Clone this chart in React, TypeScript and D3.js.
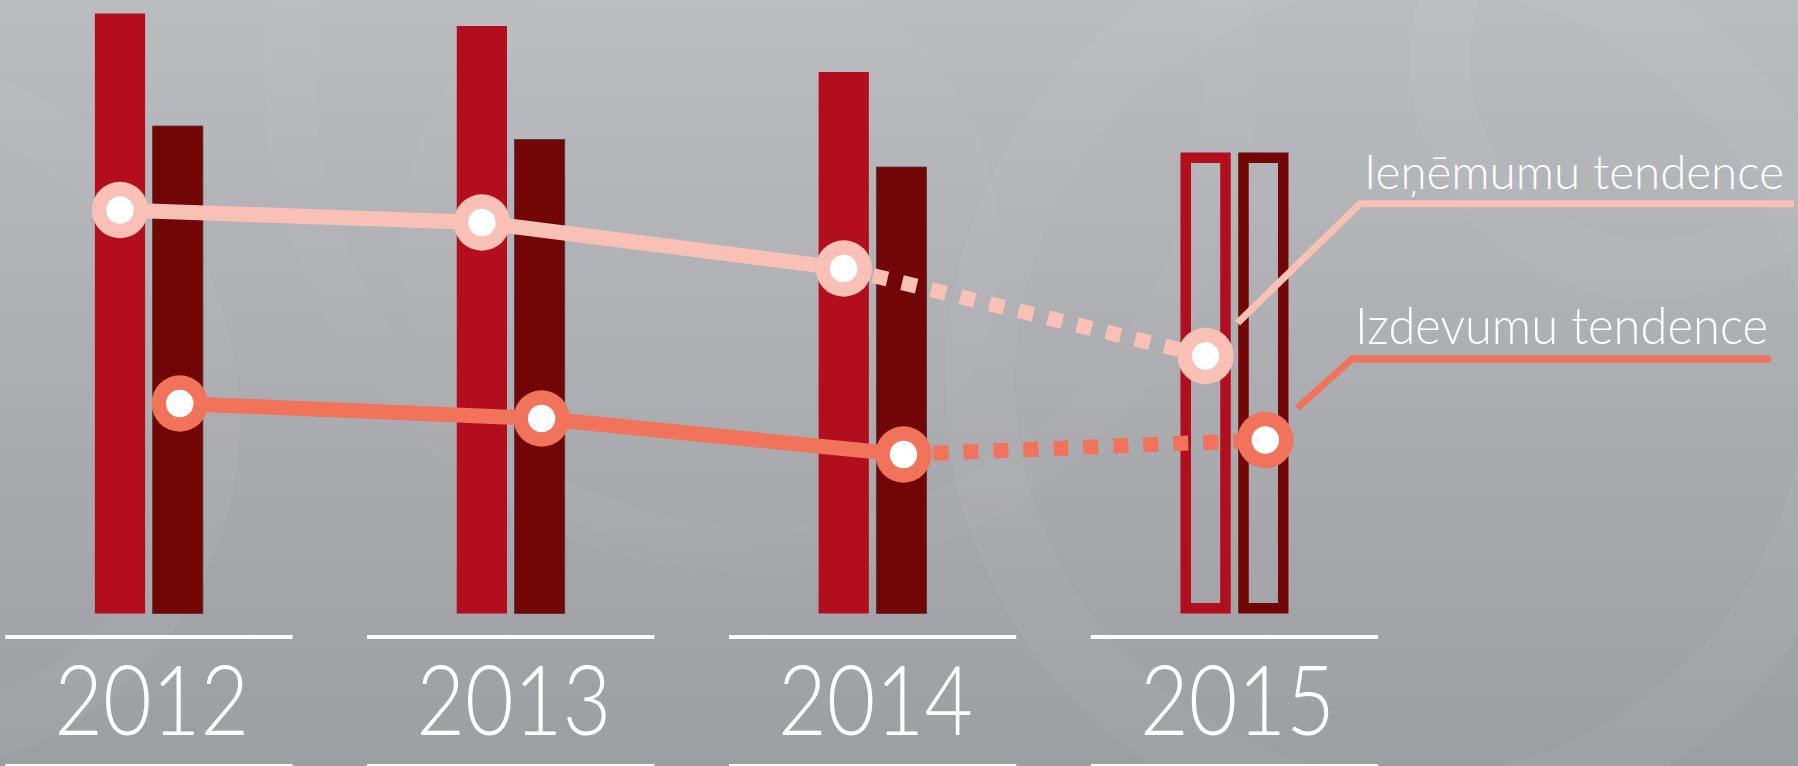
import React from "react";
import * as d3 from "d3";

const years = ["2012", "2013", "2014", "2015"];
const seriesKeys = ["rev", "exp"];
// bar heights (relative units)
const revenueBars = [600, 587.5, 541.5, 461];
const expenseBars = [487.5, 474, 446.5, 461];
// 2015 is a forecast (outlined bars)
const forecast = [false, false, false, true];
// trend lines
const revenueTrend = [403.5, 391, 345, 257.5];
const expenseTrend = [210, 195, 159, 173.5];
const revenueLabel = "Ieņēmumu tendence";
const expenseLabel = "Izdevumu tendence";

const W = 1798;
const H = 766;
const BAR_LIGHT = "#b30e1d";
const BAR_DARK = "#720506";
const REV_COL = "#f9c0b5";
const EXP_COL = "#f0735a";
const FONT = "Lato, 'Open Sans', sans-serif";

export default function App() {
  const x = d3.scaleBand<string>().domain(years).range([5.25, 1378.1]).paddingInner(0.2062).paddingOuter(0);
  const bw = x.bandwidth();
  const sub = d3.scaleBand<string>().domain(seriesKeys).range([bw / 2 - 54, bw / 2 + 54]).paddingInner(0.13);
  const sbw = sub.bandwidth();
  const y = d3.scaleLinear().domain([0, 600]).range([613.5, 13.5]);

  const ptX = (i: number, k: string) => (x(years[i]) as number) + (sub(k) as number) + sbw / 2;

  const revPts: [number, number][] = revenueTrend.map((v, i) => [ptX(i, "rev"), y(v)]);
  const expPts: [number, number][] = expenseTrend.map((v, i) => [ptX(i, "exp") + 2, y(v)]);
  const line = d3.line();
  const lastSolid = forecast.map((f) => !f).lastIndexOf(true);

  const bars: JSX.Element[] = [];
  years.forEach((yr, i) => {
    [
      { k: "rev", v: revenueBars[i], c: BAR_LIGHT },
      { k: "exp", v: expenseBars[i], c: BAR_DARK },
    ].forEach(({ k, v, c }) => {
      const bx = (x(yr) as number) + (sub(k) as number);
      const by = y(v);
      const bh = y(0) - by;
      if (forecast[i]) {
        const sw = 10.5;
        bars.push(
          <rect key={yr + k} x={bx + sw / 2} y={by + sw / 2} width={sbw - sw} height={bh - sw}
            fill="none" stroke={c} strokeWidth={sw} />
        );
      } else {
        bars.push(
          <rect key={yr + k} x={bx} y={by} width={sbw} height={bh} fill={c}
            stroke={k === "exp" ? "#4a3a3a" : "none"} strokeWidth={0.8} />
        );
      }
    });
  });

  const trend = (pts: [number, number][], col: string, key: string) => (
    <g key={key}>
      <path d={line(pts.slice(0, lastSolid + 1)) || ""} fill="none" stroke={col} strokeWidth={15} />
      <path d={line(pts.slice(lastSolid)) || ""} fill="none" stroke={col} strokeWidth={15}
        strokeDasharray="15 15" strokeDashoffset={-30} />
      {pts.map((p, i) => (
        <g key={i}>
          <circle cx={p[0]} cy={p[1]} r={28.2} fill={col} />
          <circle cx={p[0]} cy={p[1]} r={13.7} fill="#ffffff" />
        </g>
      ))}
    </g>
  );

  const last = years.length - 1;
  const revCall: [number, number][] = [
    [revPts[last][0] + 32, revPts[last][1] - 33],
    [1360, 203.7],
    [1794, 203.7],
  ];
  const expCall: [number, number][] = [
    [expPts[last][0] + 32, expPts[last][1] - 32],
    [1352, 359],
    [1771, 359],
  ];

  return (
    <svg width={W} height={H} viewBox={`0 0 ${W} ${H}`}
      style={{ position: "fixed", left: 0, top: 0, display: "block" }}>
      <defs>
        <linearGradient id="bg" x1="0" y1="0" x2="0" y2="1">
          <stop offset="0" stopColor="#bbbcc0" />
          <stop offset="1" stopColor="#9d9ea2" />
        </linearGradient>
      </defs>
      <rect x={0} y={0} width={W} height={H} fill="url(#bg)" />
      {/* faint decorative swirls */}
      <g fill="none" stroke="#ffffff" strokeOpacity={0.035}>
        <circle cx={1410} cy={380} r={430} strokeWidth={70} />
        <circle cx={1650} cy={60} r={210} strokeWidth={60} />
        <circle cx={-120} cy={420} r={330} strokeWidth={60} />
        <circle cx={760} cy={80} r={470} strokeWidth={50} strokeOpacity={0.025} />
      </g>
      <g fill="#ffffff" fillOpacity={0.02}>
        <circle cx={700} cy={250} r={300} />
      </g>

      {bars}

      {/* baselines and year labels */}
      {years.map((yr) => (
        <g key={yr}>
          <rect x={x(yr)} y={635} width={bw} height={4} fill="#ffffff" />
          <rect x={x(yr)} y={764} width={bw} height={4} fill="#ffffff" />
          <text x={(x(yr) as number) + bw / 2 + 3} y={735} textAnchor="middle" fill="#ffffff"
            fontFamily={FONT} fontWeight={300} fontSize={96} textLength={195}
            lengthAdjust="spacingAndGlyphs">{yr}</text>
        </g>
      ))}

      {/* callouts */}
      <path d={line(revCall) || ""} fill="none" stroke={REV_COL} strokeWidth={7} />
      <path d={line(expCall) || ""} fill="none" stroke={EXP_COL} strokeWidth={7} />
      <text x={1364} y={189} fill="#ffffff" fontFamily={FONT} fontWeight={300} fontSize={47}
        textLength={420} lengthAdjust="spacingAndGlyphs">{revenueLabel}</text>
      <text x={1355} y={344} fill="#ffffff" fontFamily={FONT} fontWeight={300} fontSize={51}
        textLength={413} lengthAdjust="spacingAndGlyphs">{expenseLabel}</text>

      {trend(revPts, REV_COL, "rev")}
      {trend(expPts, EXP_COL, "exp")}
    </svg>
  );
}
